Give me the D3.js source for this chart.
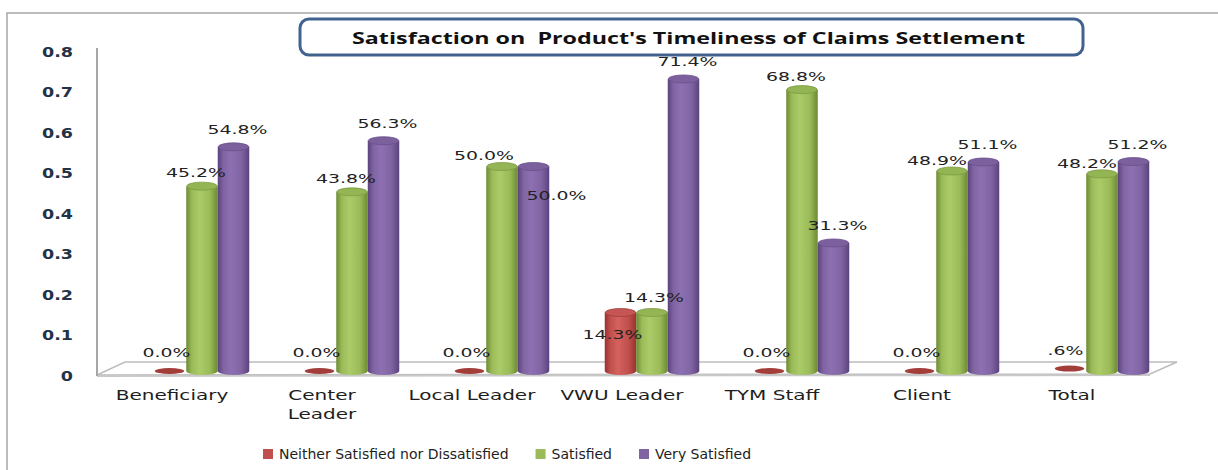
<!DOCTYPE html>
<html><head><meta charset="utf-8">
<script src="https://cdn.jsdelivr.net/npm/d3@7/dist/d3.min.js"></script>
<style>html,body{margin:0;padding:0;background:#fff;}svg{display:block;}</style>
</head><body>
<svg id="chart" width="1218" height="470"></svg>
<script>
const categories = ["Beneficiary","Center Leader","Local Leader","VWU Leader","TYM Staff","Client","Total"];
const seriesNames = ["Neither Satisfied nor Dissatisfied","Satisfied","Very Satisfied"];
const neither = [0, 0, 0, 0.143, 0, 0, 0.006];
const satisfied = [0.452, 0.438, 0.500, 0.143, 0.688, 0.489, 0.482];
const verySatisfied = [0.548, 0.563, 0.500, 0.714, 0.313, 0.511, 0.512];
const yTicks = [0, 0.1, 0.2, 0.3, 0.4, 0.5, 0.6, 0.7, 0.8];
const titleText = "Satisfaction on  Product's Timeliness of Claims Settlement";

const seriesValues = [neither, satisfied, verySatisfied];
const colors = {
  base: ["#c0504d", "#9bbb59", "#8064a2"],
  dark: ["#98322f", "#6c8a32", "#5a437c"],
  light: ["#d4625e", "#aacb68", "#8d70b2"],
  cap: ["#c55653", "#93b553", "#7c609e"],
  rim: ["#a23d3a", "#7e9c42", "#6a4f8c"]
};

const svg = d3.select("#chart");
const FONT = "DejaVu Sans, Verdana, sans-serif";

function stretch(sel, f) {
  sel.each(function () {
    const L = this.getComputedTextLength();
    d3.select(this).attr("textLength", L * f).attr("lengthAdjust", "spacingAndGlyphs");
  });
}

// outer border
svg.append("rect").attr("x", 7).attr("y", 13).attr("width", 1400).attr("height", 600)
  .attr("fill", "none").attr("stroke", "#a6a6a6").attr("stroke-width", 1.5);

// scales
const x0 = d3.scaleBand().domain(categories).range([97, 1147]).paddingInner(0).paddingOuter(0);
const barW = 31.5;
const x1 = d3.scaleBand().domain(seriesNames).range([0, barW * 3]);
const groupStart = c => x0(c) + x0.bandwidth() / 2 - barW / 2 - 1.5;
const barY = d3.scaleLinear().domain([0, 0.8]).range([371, 371 - 0.8 * 409]);
const axisY = d3.scaleLinear().domain([0, 0.8]).range([375, 51]);

// floor
const floorPts = [[97, 375], [1150, 374], [1177, 362], [125, 362]];
svg.append("polygon").attr("points", floorPts.map(p => p.join(",")).join(" "))
  .attr("fill", "#ffffff").attr("stroke", "#bdbdbd").attr("stroke-width", 1.5);
svg.append("line").attr("x1", 97).attr("x2", 1150).attr("y1", 376).attr("y2", 375)
  .attr("stroke", "#c8c8c8").attr("stroke-width", 2);

// y axis line
svg.append("line").attr("x1", 97).attr("x2", 97).attr("y1", 48).attr("y2", 376)
  .attr("stroke", "#a6a6a6").attr("stroke-width", 2);

// y tick labels
const yAxis = d3.axisLeft(axisY).tickValues(yTicks).tickSize(0).tickPadding(0)
  .tickFormat(d => d === 0 ? "0" : d3.format(".1f")(d));
const yg = svg.append("g").attr("transform", "translate(73,0)").call(yAxis);
yg.select(".domain").remove();
yg.selectAll("text").attr("font-family", FONT).attr("font-size", 14).attr("font-weight", "bold")
  .attr("fill", "#243247").attr("dy", "0.36em");
stretch(yg.selectAll("text"), 1.25);

// gradients
const defs = svg.append("defs");
[0, 1, 2].forEach(i => {
  const g = defs.append("linearGradient").attr("id", "grad" + i).attr("x1", "0%").attr("x2", "100%");
  g.append("stop").attr("offset", "0%").attr("stop-color", colors.dark[i]);
  g.append("stop").attr("offset", "18%").attr("stop-color", colors.base[i]);
  g.append("stop").attr("offset", "42%").attr("stop-color", colors.light[i]);
  g.append("stop").attr("offset", "75%").attr("stop-color", colors.base[i]);
  g.append("stop").attr("offset", "100%").attr("stop-color", colors.dark[i]);
});

// bars
const ry = 4;
const barData = [];
categories.forEach((c, ci) => {
  seriesNames.forEach((s, si) => {
    barData.push({ c, ci, s, si, v: seriesValues[si][ci] });
  });
});
const bars = svg.append("g");
barData.forEach(d => {
  const xl = groupStart(d.c) + x1(d.s);
  const xr = xl + x1.bandwidth();
  const cx = (xl + xr) / 2;
  const rx = x1.bandwidth() / 2;
  const yb = barY(0);
  const yt = barY(d.v);
  d.cx = cx; d.top = yt - ry;
  if (yb - yt < 4) {
    bars.append("ellipse").attr("cx", cx - 1).attr("cy", yt).attr("rx", rx - 1).attr("ry", 3)
      .attr("fill", colors.rim[d.si]);
    return;
  }
  bars.append("path")
    .attr("d", `M${xl},${yt} L${xl},${yb} A${rx},${ry} 0 0 0 ${xr},${yb} L${xr},${yt} Z`)
    .attr("fill", `url(#grad${d.si})`);
  bars.append("ellipse").attr("cx", cx).attr("cy", yt).attr("rx", rx - 0.5).attr("ry", ry)
    .attr("fill", colors.cap[d.si]).attr("stroke", colors.rim[d.si]).attr("stroke-width", 0.8);
});

// value labels
const fmt = v => {
  let s = d3.format(".1%")(v);
  if (v > 0 && v < 0.01) s = s.replace(/^0/, "");
  return s;
};
const labels = svg.append("g");
barData.forEach(d => {
  const sat = satisfied[d.ci], very = verySatisfied[d.ci], nei = neither[d.ci];
  let lx = d.cx, ly = d.top;
  if (d.si === 0) {
    if (d.v > 0 && Math.abs(d.v - sat) < 0.005) { lx = d.cx - 8; ly = d.top + 30; }
    else { lx = d.cx - 5; ly = barY(0) - 16; }
    if (d.v === 0) { lx = d.cx - 4; ly = barY(0) - 14; }
  } else if (d.si === 1) {
    const close = very - sat;
    if (Math.abs(close) < 0.005) { lx = d.cx - 18; ly = d.top - 3; }
    else if (close > 0 && close < 0.04) { lx = d.cx - 15; ly = d.top - 2; }
    else { lx = d.cx - 6; ly = d.top - 5; }
    if (Math.abs(d.v - nei) < 0.005) { lx = d.cx + 2; ly = d.top - 7; }
  } else {
    if (Math.abs(d.v - sat) < 0.005) { lx = d.cx + 23; ly = d.top + 37; }
    else { lx = d.cx + 4; ly = d.top - 9; }
  }
  labels.append("text").attr("x", lx).attr("y", ly).attr("text-anchor", "middle")
    .attr("font-family", FONT).attr("font-size", 13).attr("fill", "#222")
    .text(fmt(d.v));
});
stretch(labels.selectAll("text"), 1.45);

// category labels
const catG = svg.append("g");
categories.forEach(c => {
  const cx = x0(c) + x0.bandwidth() / 2;
  const t = catG.append("text").attr("x", cx).attr("y", 400).attr("text-anchor", "middle")
    .attr("font-family", FONT).attr("font-size", 14).attr("fill", "#1e1e1e").text(c);
  const w = t.node().getComputedTextLength() * 1.43;
  if (w > 135) {
    const words = c.split(" ");
    t.text(words[0]);
    catG.append("text").attr("x", cx).attr("y", 419).attr("text-anchor", "middle")
      .attr("font-family", FONT).attr("font-size", 14).attr("fill", "#1e1e1e").text(words.slice(1).join(" "));
  }
});
stretch(catG.selectAll("text"), 1.43);

// title
svg.append("rect").attr("x", 300).attr("y", 19).attr("width", 783).attr("height", 36).attr("rx", 9)
  .attr("fill", "#fff").attr("stroke", "#41628f").attr("stroke-width", 3);
const tt = svg.append("text").attr("x", 688.5).attr("y", 44).attr("text-anchor", "middle")
  .attr("font-family", "Open Sans, Liberation Sans, sans-serif").attr("font-size", 16.5)
  .attr("font-weight", "bold").attr("fill", "#111").style("white-space", "pre").text(titleText);
tt.attr("textLength", 673).attr("lengthAdjust", "spacingAndGlyphs");

// legend
const leg = svg.append("g");
let lxPos = 263;
seriesNames.forEach((s, i) => {
  leg.append("rect").attr("x", lxPos).attr("y", 449).attr("width", 10).attr("height", 10).attr("fill", colors.base[i]);
  const t = leg.append("text").attr("x", lxPos + 16).attr("y", 459)
    .attr("font-family", FONT).attr("font-size", 14).attr("fill", "#1e1e1e").text(s);
  const w = t.node().getComputedTextLength();
  lxPos += 16 + w + 27;
});
</script>
</body></html>
